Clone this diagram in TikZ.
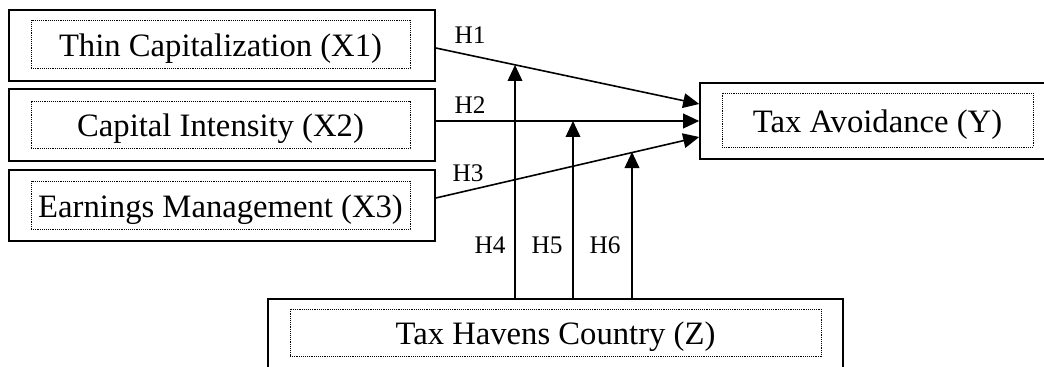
\documentclass[tikz,border=0pt]{standalone}
\usepackage{fontspec}
\setmainfont{Liberation Serif}
\usetikzlibrary{arrows.meta,calc}
\newcommand{\boxtext}[1]{\raisebox{-3.5pt}[\height][\depth]{#1}}
\begin{document}
\begin{tikzpicture}[x=0.75pt,y=-0.75pt,
  outerbox/.style={draw,line width=1.2pt,inner sep=0pt,minimum width=#1},
  innerbox/.style={draw,line width=0.6pt,dash pattern=on 0.7pt off 0.7pt,inner sep=0pt,minimum width=#1,font=\fontsize{24.5}{28}\selectfont},
  hlabel/.style={font=\fontsize{19}{22}\selectfont,inner sep=0pt},
  conn/.style={line width=1.2pt,-{Triangle[length=12pt,width=11pt]}}]
\useasboundingbox (0,0) rectangle (1044,367);
\clip (0,0) rectangle (1044,367);
% X boxes
\node[outerbox=319.5pt,minimum height=53.25pt] (x1o) at (222,45.5) {};
\node[innerbox=284.25pt,minimum height=36pt] (x1) at (220.5,44) {\boxtext{Thin Capitalization (X1)}};
\node[outerbox=319.5pt,minimum height=54pt] (x2o) at (222,125) {};
\node[innerbox=284.25pt,minimum height=35.25pt] (x2) at (220.5,124.5) {\boxtext{Capital Intensity (X2)}};
\node[outerbox=319.5pt,minimum height=53.25pt] (x3o) at (222,205.5) {};
\node[innerbox=284.25pt,minimum height=36pt] (x3) at (220.5,205) {\boxtext{Earnings Management (X3)}};
% Y box
\node[outerbox=262.5pt,minimum height=57pt] (yo) at (875,121) {};
\node[innerbox=233.25pt,minimum height=40.5pt] (y) at (877.5,120) {\boxtext{Tax Avoidance (Y)}};
% Z box
\node[outerbox=431.25pt,minimum height=60.75pt] (zo) at (555.5,339.5) {};
\node[innerbox=398.25pt,minimum height=35.25pt] (z) at (555.5,332.5) {\boxtext{Tax Havens Country (Z)}};
% tips of moderating arrows
\coordinate (t4) at (515,65);
\coordinate (t5) at (573,121);
\coordinate (t6) at (632,152);
% direct paths
\draw[conn] ($(x1o.east)+(0,2.5)$) -- ($(yo.west)+(0,-17)$);
\draw[conn] ($(x2o.east)+(0,-4)$) -- ($(yo.west)+(0,0)$);
\draw[conn] ($(x3o.east)+(0,-7.5)$) -- ($(yo.west)+(0,16)$);
% moderating paths
\draw[conn] (zo.north -| t4) -- (t4);
\draw[conn] (zo.north -| t5) -- (t5);
\draw[conn] (zo.north -| t6) -- (t6);
% labels
\node[hlabel] (h1) at (470,35) {H1};
\node[hlabel] (h2) at (470,105) {H2};
\node[hlabel] (h3) at (468,173) {H3};
\node[hlabel] (h4) at (490,245) {H4};
\node[hlabel] (h5) at (547,245) {H5};
\node[hlabel] (h6) at (605,245) {H6};
\end{tikzpicture}
\end{document}
